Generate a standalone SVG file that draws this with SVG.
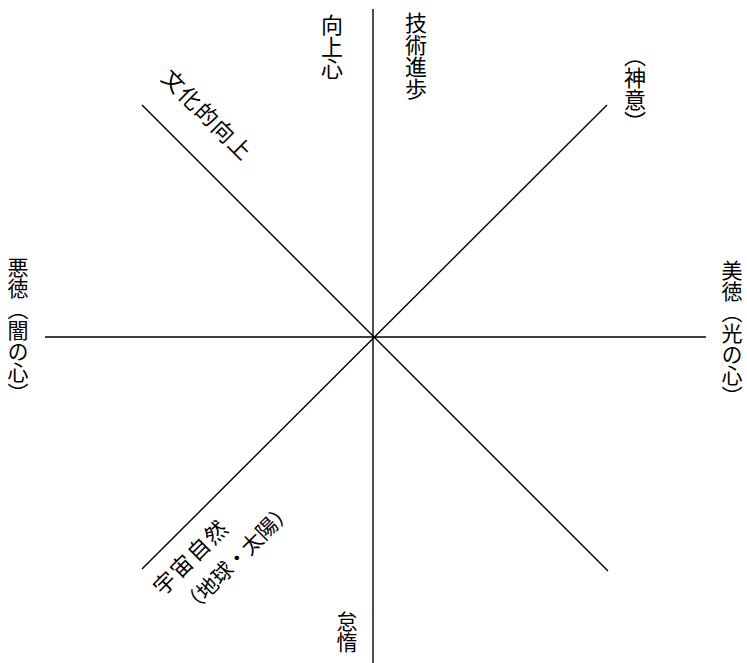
<svg xmlns="http://www.w3.org/2000/svg" width="747" height="663" viewBox="0 0 747 663">
<style>
.ln{stroke:#000;stroke-width:1.4;fill:none}
.t{font-family:"Noto Sans CJK JP","Noto Sans CJK SC",sans-serif;fill:#000}
.v{writing-mode:vertical-rl}
</style>
<rect width="747" height="663" fill="#fff"/>
<g id="connectors">
<line class="ln" x1="373" y1="9" x2="373" y2="663"/>
<line class="ln" x1="45" y1="337" x2="706" y2="337"/>
<line class="ln" x1="142" y1="105" x2="608" y2="571"/>
<line class="ln" x1="607" y1="105" x2="142" y2="569"/>
</g>
<g id="n-koujoushin"><text class="t v" x="332" y="14" font-size="22">向上心</text></g>
<g id="n-gijutsu"><text class="t v" x="416" y="12" font-size="22">技術進歩</text></g>
<g id="n-shini"><text class="t v" x="635" y="45" font-size="22">（神意）</text></g>
<g id="n-akutoku"><text class="t v" x="18" y="257" font-size="21">悪徳（闇の心）</text></g>
<g id="n-bitoku"><text class="t v" x="732" y="260" font-size="21">美徳（光の心）</text></g>
<g id="n-taida"><text class="t v" x="347" y="611" font-size="21">怠惰</text></g>
<g id="n-bunka" transform="rotate(45)"><text class="t" x="228" y="-57" font-size="22" letter-spacing="1.5" text-anchor="middle">文化的向上</text></g>
<g id="n-uchu" transform="rotate(-45)">
<text class="t" x="-259" y="537" font-size="22" letter-spacing="2" text-anchor="middle">宇宙自然</text>
<text class="t" x="-227" y="570" font-size="21" text-anchor="middle">（地球・太陽）</text>
</g>
</svg>
